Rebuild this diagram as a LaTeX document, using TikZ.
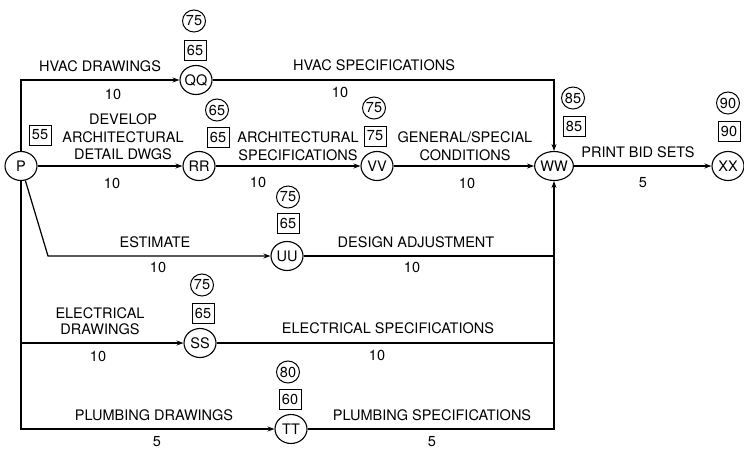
\documentclass[tikz,border=0pt]{standalone}
\usepackage{fontspec}
\setmainfont{TeX Gyre Heros}
\usetikzlibrary{arrows.meta,shapes.geometric}
\begin{document}
\begin{tikzpicture}[x=1pt,y=-1pt,
  every node/.style={font=\fontsize{14.5}{17.5}\selectfont},
  ev/.style={draw,ellipse,inner sep=0pt,minimum width=32pt,minimum height=29pt,line width=1.1pt},
  late/.style={draw,ellipse,inner sep=0pt,minimum width=23pt,minimum height=22pt,line width=1pt},
  early/.style={draw,rectangle,inner sep=0pt,minimum width=22pt,minimum height=20pt,line width=1pt},
  lbl/.style={inner sep=0pt,align=center},
  act/.style={line width=1.2pt,-{Stealth[length=7pt,width=5pt]}},
  plain/.style={line width=1.2pt}]
\useasboundingbox (0,0) rectangle (744,450);
% events
\node[ev] (P)  at (21,166)  {P};
\node[ev] (QQ) at (196,80)  {QQ};
\node[ev] (RR) at (199,166) {RR};
\node[ev] (VV) at (377,166) {VV};
\node[ev] (WW) at (554,166) {WW};
\node[ev] (XX) at (728,166) {XX};
\node[ev] (UU) at (287,256) {UU};
\node[ev] (SS) at (200,343) {SS};
\node[ev] (TT) at (291,429) {TT};
% late / early times
\node[late]  (QQl) at (194,21)  {75};
\node[early] (QQe) at (195,50)  {65};
\node[early] (Pe)  at (40,135)  {55};
\node[late]  (RRl) at (217,110) {65};
\node[early] (RRe) at (218,137) {65};
\node[late]  (VVl) at (374,108) {75};
\node[early] (VVe) at (375,136) {75};
\node[late]  (WWl) at (573,98)  {85};
\node[early] (WWe) at (574,126) {85};
\node[late]  (XXl) at (728,103) {90};
\node[early] (XXe) at (729,131) {90};
\node[late]  (UUl) at (288,197) {75};
\node[early] (UUe) at (288,223) {65};
\node[late]  (SSl) at (202,285) {75};
\node[early] (SSe) at (203,313) {65};
\node[late]  (TTl) at (288,372) {80};
\node[early] (TTe) at (290,399) {60};
% activity labels
\node[lbl] (t1)  at (100,66)  {HVAC DRAWINGS};
\node[lbl] (d1)  at (113,94)  {10};
\node[lbl] (t2)  at (374,65)  {HVAC SPECIFICATIONS};
\node[lbl] (d2)  at (340,92)  {10};
\node[lbl] (t3)  at (123,137) {DEVELOP\\ARCHITECTURAL\\DETAIL DWGS};
\node[lbl] (d3)  at (112,183) {10};
\node[lbl] (t4)  at (298,146) {ARCHITECTURAL\\SPECIFICATIONS};
\node[lbl] (d4)  at (258,182) {10};
\node[lbl] (t5)  at (465,146) {GENERAL/SPECIAL\\CONDITIONS};
\node[lbl] (d5)  at (467,183) {10};
\node[lbl] (t6)  at (638,152) {PRINT BID SETS};
\node[lbl] (d6)  at (643,183) {5};
\node[lbl] (t7)  at (155,242) {ESTIMATE};
\node[lbl] (d7)  at (158,267) {10};
\node[lbl] (t8)  at (416,242) {DESIGN ADJUSTMENT};
\node[lbl] (d8)  at (412,267) {10};
\node[lbl,font=\fontsize{14.5}{16}\selectfont] (t9) at (100,321) {ELECTRICAL\\DRAWINGS};
\node[lbl] (d9)  at (98,356)  {10};
\node[lbl] (t10) at (388,328) {ELECTRICAL SPECIFICATIONS};
\node[lbl] (d10) at (377,355) {10};
\node[lbl] (t11) at (154,415) {PLUMBING DRAWINGS};
\node[lbl] (d11) at (157,442) {5};
\node[lbl] (t12) at (432,415) {PLUMBING SPECIFICATIONS};
\node[lbl] (d12) at (432,442) {5};
% connectors
\coordinate (eb) at (48,256);
\draw[act] (P) |- (QQ);
\draw[act] (P) -- (RR);
\draw[act] (P) -- (eb) -- (UU);
\draw[act] (P) |- (SS);
\draw[act] (P) |- (TT);
\draw[act] (QQ) -| (WW);
\draw[act] (RR) -- (VV);
\draw[act] (VV) -- (WW);
\draw[act] (WW) -- (XX);
\draw[plain] (UU) -- (UU -| WW);
\draw[plain] (SS) -- (SS -| WW);
\draw[act] (TT) -| (WW);
\end{tikzpicture}
\end{document}
